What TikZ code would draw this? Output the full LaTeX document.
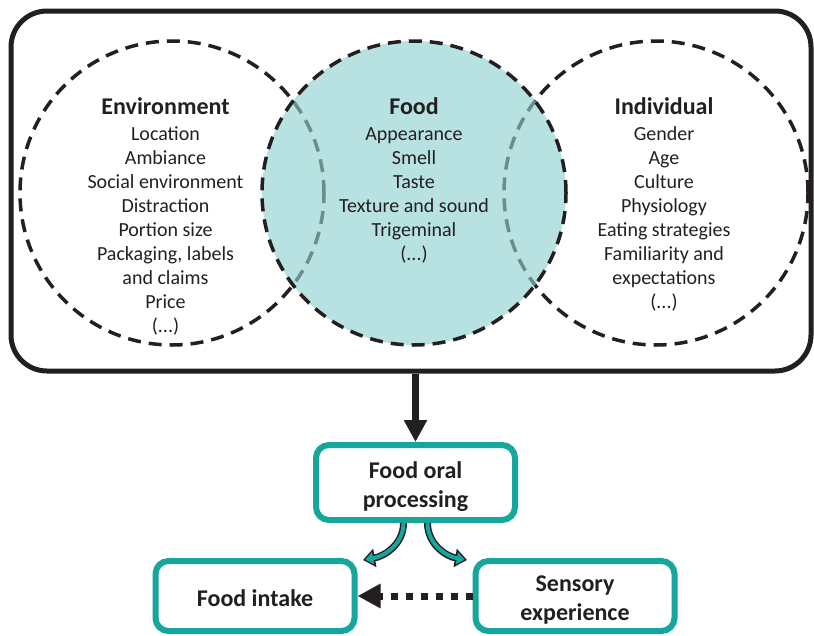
\documentclass[tikz,border=0pt]{standalone}
\usepackage{fontspec}
\setmainfont{Carlito}
\usetikzlibrary{arrows.meta}
\newcommand\titlefont{\bfseries\fontsize{24}{28}\selectfont}
\tikzset{
  outerbox/.style={draw=ink, line width=5pt, rounded corners=36pt, minimum width=800pt, minimum height=360pt},
  ring/.style={circle, draw=ink, line width=3.5pt, dash pattern=on 13pt off 8pt, minimum size=304pt, inner sep=0pt},
  listtext/.style={anchor=north, align=center, inner sep=0pt, text=ink, font=\fontsize{20}{24}\selectfont},
  stepbox/.style={draw=teal1, line width=6pt, rounded corners=13pt, fill=white, align=center, text=ink, minimum width=199pt, font=\bfseries\fontsize{24}{29}\selectfont},
  bigarrow/.style={draw=ink, line width=7pt, -{Triangle[width=22pt,length=22pt]}},
  dotarrow/.style={draw=ink, line width=7pt, dash pattern=on 7pt off 8pt, -{Triangle[width=23pt,length=23pt]}},
  fatout/.style={draw=ink, line width=7pt, -{Triangle[width=18pt,length=12pt]}},
  fatin/.style={draw=teal1, line width=4pt, shorten >=2.3pt, -{Triangle[width=12pt,length=8pt]}}
}
\begin{document}
\begin{tikzpicture}[x=1pt, y=-1pt]
\definecolor{ink}{HTML}{231F20}
\definecolor{teal1}{HTML}{16A69B}
\definecolor{foodfill}{HTML}{8ED1CF}
\useasboundingbox (0,0) rectangle (814,635);
\node[outerbox] (frame) at (411,191) {};
\node[ring] (env) at (172,193) {};
\node[ring] (indiv) at (656,193) {};
\node[ring, fill=foodfill, fill opacity=0.63, draw opacity=1] (food) at (414,193) {};
\node[listtext] (envtext) at (165.5,94.4) {{\titlefont Environment\strut}\\[2pt] Location\\ Ambiance\\ Social environment\\ Distraction\\ Portion size\\ Packaging, labels\\ and claims\\ Price\\ (...)};
\node[listtext] (foodtext) at (414,94.4) {{\titlefont Food\strut}\\[2pt] Appearance\\ Smell\\ Taste\\ Texture and sound\\ Trigeminal\\ (...)};
\node[listtext] (indivtext) at (664,94.4) {{\titlefont Individual\strut}\\[2pt] Gender\\ Age\\ Culture\\ Physiology\\ Eating strategies\\ Familiarity and\\ expectations\\ (...)};
\node[stepbox, minimum height=75pt] (fop) at (415.5,482.5) {\rule{0pt}{26pt}Food oral\\ processing};
\node[stepbox, minimum height=70pt] (intake) at (255,596) {\rule{0pt}{22pt}Food intake};
\node[stepbox, minimum height=70pt] (sens) at (575,596) {\rule{0pt}{24pt}Sensory\\ experience};
\coordinate (tipl) at (363,560);
\coordinate (tipr) at (467,560);
\draw[bigarrow] (fop.north |- frame.south) -- (fop.north);
\draw[fatout] ([xshift=-12pt]fop.south) to[out=-90, in=10] (tipl);
\draw[fatin] ([xshift=-12pt]fop.south) to[out=-90, in=10] (tipl);
\draw[fatout] ([xshift=12pt]fop.south) to[out=-90, in=170] (tipr);
\draw[fatin] ([xshift=12pt]fop.south) to[out=-90, in=170] (tipr);
\draw[dotarrow] (sens.west) -- (intake.east);
\end{tikzpicture}
\end{document}
